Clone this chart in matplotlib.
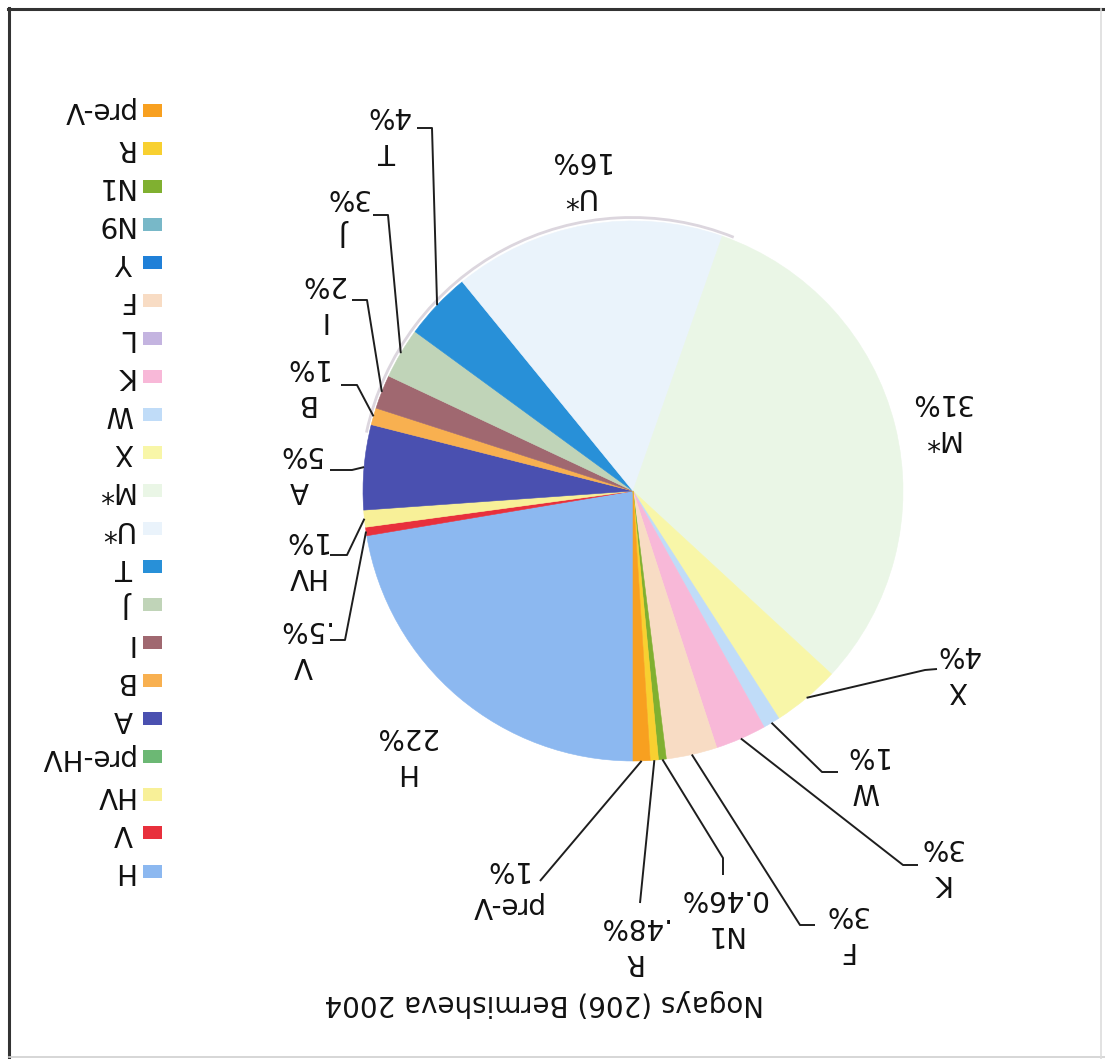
"""Haplogroup pie for the Nogay sample, drawn turned half a revolution."""
import matplotlib
matplotlib.use("Agg")
import matplotlib.pyplot as plt
import numpy as np
from matplotlib.patches import Rectangle, Arc

title = "Nogays (206) Bermisheva 2004"

# every haplogroup in the legend, in legend order
legend_names = ["H", "V", "HV", "pre-HV", "A", "B", "I", "J", "T", "U*", "M*",
                "X", "W", "K", "L", "F", "Y", "N9", "N1", "R", "pre-V"]
legend_colors = ["#8cb8f0", "#e8303c", "#f8f098", "#6cb874", "#4a50b0", "#f8b050",
                 "#a06870", "#c0d4b8", "#2890d8", "#eaf3fb", "#eaf6e6", "#f8f6a8",
                 "#c0dcf8", "#f8b8d8", "#c4b4e0", "#f8dcc4", "#2080d8", "#78b8c8",
                 "#80b030", "#f8d030", "#f8a020"]

# slices that are present, percent of the sample
pie_names = ["H", "V", "HV", "A", "B", "I", "J", "T", "U*", "M*",
             "X", "W", "K", "F", "N1", "R", "pre-V"]
pie_values = [22, 0.5, 1, 5, 1, 2, 3, 4, 16, 31, 4, 1, 3, 3, 0.46, 0.48, 1]
pie_pct = ["22%", ".5%", "1%", "5%", "1%", "2%", "3%", "4%", "16%", "31%",
           "4%", "1%", "3%", "3%", "0.46%", ".48%", "1%"]

# label placement in pixels: text centre, then the leader's bend points
label_layout = {
    "H": ((405, 754), []),
    "V": ((303, 647), [(345, 640), (330, 640)]),
    "HV": ((304, 558), [(347, 555), (330, 555)]),
    "A": ((299, 472), [(352, 470), (330, 470)]),
    "B": ((305, 385), [(357, 385), (341, 385)]),
    "I": ((322, 302), [(367, 300), (352, 300)]),
    "J": ((346, 215), [(388, 215), (373, 215)]),
    "T": ((388, 133), [(432, 128), (417, 128)]),
    "U*": ((578, 178), []),
    "M*": ((940, 420), []),
    "X": ((958, 672), [(925, 670), (937, 669)]),
    "W": ((865, 773), [(822, 772), (838, 772)]),
    "K": ((940, 865), [(903, 865), (918, 865)]),
    "F": ((845, 932), [(800, 925), (815, 925)]),
    "N1": ((723, 916), [(723, 858), (723, 875)]),
    "R": ((632, 944), [(640, 903)]),
    "pre-V": ((505, 887), [(540, 881)]),
}

W, H = 1105, 1059
cx, cy, rad = 633, 491, 270
fs = 20
plt.rcParams["font.family"] = "DejaVu Sans"

fig = plt.figure(figsize=(W / 100, H / 100), dpi=100)
ax = fig.add_axes([0, 0, 1, 1])

color_of = dict(zip(legend_names, legend_colors))

# soft shadow along the upper-left rim
ax.add_patch(Arc((cx - 1, cy - 2), 2 * rad + 3, 2 * rad + 3, theta1=192, theta2=292,
                 edgecolor="#dcd6de", lw=2, zorder=0))

wedges, _ = ax.pie(pie_values, colors=[color_of[n] for n in pie_names],
                   startangle=90, counterclock=True, center=(cx, cy), radius=rad,
                   wedgeprops=dict(linewidth=0.4))

for w, name, pct in zip(wedges, pie_names, pie_pct):
    w.set_edgecolor(w.get_facecolor())
    (tx, ty), bends = label_layout[name]
    if bends:
        mid = np.deg2rad((w.theta1 + w.theta2) / 2)
        xs = [cx + rad * np.cos(mid)] + [p[0] for p in bends]
        ys = [cy + rad * np.sin(mid)] + [p[1] for p in bends]
        ax.plot(xs, ys, color="#1e1e1e", lw=1.4, solid_capstyle="butt", zorder=3)
    ax.text(tx, ty, f"{name}\n{pct}", rotation=180, ha="center", va="center",
            multialignment="center", fontsize=fs, color="#111111", linespacing=1.35)

# legend on the left, drawn by hand so it can be turned
row0, step = 871, 38.05
for i, (name, col) in enumerate(zip(legend_names, legend_colors)):
    y = row0 - i * step
    ax.add_patch(Rectangle((143, y - 6.5), 19, 13, facecolor=col, edgecolor="none"))
    ax.text(133, y, name, rotation=180, ha="right", va="center",
            fontsize=fs, color="#111111")

ax.text(544, 1003, title, rotation=180, ha="center", va="center",
        fontsize=fs, color="#111111")

# frame
ax.plot([8, W], [9, 9], color="#333333", lw=2.2)
ax.plot([9, 9], [8, H], color="#333333", lw=2.2)
ax.plot([9, W], [1057, 1057], color="#cfcfcf", lw=1.2)
ax.plot([1101, 1101], [9, H], color="#dddddd", lw=1.2)

ax.set_xlim(0, W)
ax.set_ylim(H, 0)
ax.set_aspect("equal")
ax.axis("off")

fig.savefig("out.png", dpi=100, facecolor="white")
